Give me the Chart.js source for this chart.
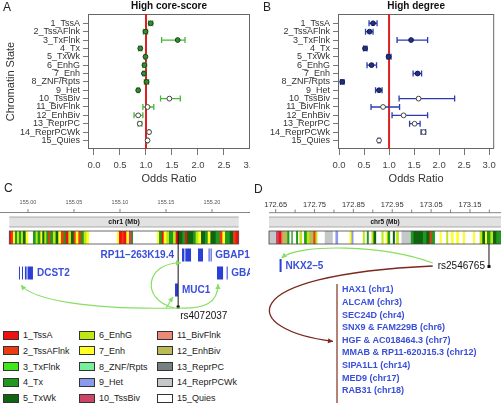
<!DOCTYPE html>
<html>
<head>
<meta charset="utf-8">
<script src="https://cdn.jsdelivr.net/npm/chart.js@4.4.1/dist/chart.umd.min.js"></script>
<style>
body { margin: 0; background: #fff; font-family: "Liberation Sans", Arial, sans-serif; }
#wrap { position: relative; width: 501px; height: 403px; overflow: hidden; }
canvas { position: absolute; }
.lab { position: absolute; font-size: 12px; color: #222; line-height: 12px; }
.leg { position: absolute; font-size: 9px; color: #222; line-height: 10px; white-space: nowrap; }
.sw { position: absolute; width: 14px; height: 7px; border: 1px solid #333; }
</style>
</head>
<body>
<div id="wrap">
  <canvas id="chA" width="262" height="190" style="left:0;top:0;z-index:1"></canvas>
  <canvas id="chB" width="251" height="190" style="left:250px;top:0;z-index:2;background:#fff"></canvas>
  <canvas id="chC" width="250" height="140" style="left:0;top:190px;z-index:1"></canvas>
  <canvas id="chD" width="251" height="213" style="left:250px;top:190px;z-index:1"></canvas>
  <div class="lab" style="left:3px;top:1px;z-index:3">A</div>
  <div class="lab" style="left:263px;top:1px;z-index:3">B</div>
  <div class="lab" style="left:4px;top:182px;z-index:3">C</div>
  <div class="lab" style="left:254px;top:183px;z-index:3">D</div>
  <div id="legend"></div>
</div>
<script>
const FAM = '"Liberation Sans", Arial, sans-serif';
Chart.defaults.font.family = FAM;

// chromatin states (ROADMAP 15-state model)
const states = ['1_TssA', '2_TssAFlnk', '3_TxFlnk', '4_Tx', '5_TxWk', '6_EnhG', '7_Enh', '8_ZNF/Rpts',
    '9_Het', '10_TssBiv', '11_BivFlnk', '12_EnhBiv', '13_ReprPC', '14_ReprPCWk', '15_Quies'];
const stateColors = ['#ee1111', '#ee3a11', '#3ee81a', '#1f9a1f', '#0f640f', '#bde812', '#ffff22', '#77ee99',
    '#8899ee', '#cc4466', '#ee8877', '#bbbb55', '#778080', '#c4c8c8', '#ffffff'];

// panel A: high core-score
const aOR = [1.09, 0.99, 1.61, 0.89, 0.99, 0.97, 0.96, 1.01, 0.85, 1.45, 1.03, 0.85, 0.88, 1.06, 1.03];
const aLo = [1.05, 0.95, 1.30, 0.86, 0.97, 0.94, 0.94, 0.97, 0.83, 1.28, 0.94, 0.77, 0.85, 1.05, 1.02];
const aHi = [1.13, 1.03, 1.75, 0.92, 1.01, 1.01, 0.98, 1.05, 0.87, 1.66, 1.15, 0.94, 0.92, 1.07, 1.04];

// panel B: high degree
const bOR = [0.68, 0.61, 1.44, 0.52, 0.99, 0.65, 1.57, 0.065, 0.80, 1.59, 0.88, 1.29, 1.51, 1.69, 0.80];
const bLo = [0.60, 0.53, 1.16, 0.49, 0.96, 0.56, 1.48, 0.03, 0.73, 1.20, 0.64, 1.06, 1.41, 1.64, 0.78];
const bHi = [0.76, 0.68, 1.77, 0.56, 1.04, 0.75, 1.65, 0.10, 0.86, 2.31, 1.21, 1.77, 1.62, 1.73, 0.82];

const orTicks = [0, 0.5, 1, 1.5, 2, 2.5, 3];

// panel C: chr1 locus (Mb)
const cTicks = [155.00, 155.05, 155.10, 155.15, 155.20];
const cSegStart = [154.9797, 154.9819, 154.9841, 154.9862, 154.9884, 154.9906, 154.9928, 154.9949, 154.9978, 155.0007,
    155.0058, 155.0087, 155.0109, 155.0138, 155.0159, 155.0181, 155.0203, 155.0225, 155.0246, 155.0275,
    155.0304, 155.0333, 155.0362, 155.0391, 155.0413, 155.0442, 155.0471, 155.0500, 155.0522, 155.0551,
    155.0580, 155.0609, 155.0638, 155.0667, 155.0971, 155.0993, 155.1022, 155.1043, 155.1072, 155.1101,
    155.1130, 155.1145, 155.1406, 155.1428, 155.1457, 155.1478, 155.1507, 155.1536, 155.1580, 155.1609,
    155.1638, 155.1681, 155.1710, 155.1732, 155.1797, 155.1826, 155.1855, 155.1884, 155.1928, 155.1957,
    155.1986, 155.2043, 155.2087, 155.2116, 155.2145, 155.2196, 155.2232, 155.2261];
const cSegState = [1, 2, 7, 4, 6, 4, 6, 5, 7, 15,
    4, 6, 4, 7, 5, 6, 4, 2, 4, 6,
    5, 7, 2, 4, 1, 6, 5, 2, 7, 2,
    4, 6, 7, 15, 7, 1, 2, 1, 7, 10,
    4, 15, 7, 4, 1, 7, 6, 4, 6, 1,
    5, 4, 1, 5, 4, 6, 7, 5, 4, 7,
    5, 4, 2, 7, 4, 5, 2, 1];
const cTrackEnd = 155.2290;
const cGenes = ['DCST2', 'RP11\u2013263K19.4', 'GBAP1', 'GBA', 'MUC1'];
const cGeneBlocks = [
    [[154.9902, 154.9909], [154.9935, 154.9942], [154.9967, 154.9985], [154.9995, 155.0054]],
    [[155.1674, 155.1700], [155.1710, 155.1772]],
    [[155.1848, 155.1902], [155.1963, 155.1970], [155.1985, 155.1992]],
    [[155.2054, 155.2120], [155.2159, 155.2166]],
    [[155.1598, 155.1630]]
];
const cSnp = 155.1632;
const cSnpName = 'rs4072037';

// panel D: chr5 locus (Mb)
const dTicks = [172.65, 172.75, 172.85, 172.95, 173.05, 173.15];
const dMinorTicks = [172.70, 172.80, 172.90, 173.00, 173.10, 173.20];
const dSegStart = [172.6328, 172.6517, 172.6586, 172.6655, 172.6689, 172.6741, 172.6809, 172.6861, 172.6912, 172.6947,
    172.7033, 172.7084, 172.7119, 172.7187, 172.7239, 172.7308, 172.7376, 172.7479, 172.7531, 172.7582,
    172.7771, 172.7978, 172.8046, 172.8115, 172.8407, 172.8459, 172.8510, 172.8751, 172.8802, 172.8854,
    172.8905, 172.8974, 172.9026, 172.9095, 172.9232, 172.9284, 172.9335, 172.9387, 172.9455, 172.9524,
    172.9576, 172.9610, 172.9679, 172.9747, 172.9988, 173.0057, 173.0297, 173.0383, 173.0469, 173.0521,
    173.0607, 173.0727, 173.0778, 173.0899, 173.0950, 173.1019, 173.1088, 173.1156, 173.1225, 173.1328,
    173.1380, 173.1586, 173.1637, 173.1758, 173.1826, 173.1895, 173.1947, 173.2033, 173.2101, 173.2187];
const dSegState = [14, 10, 1, 11, 12, 12, 4, 15, 4, 15,
    4, 15, 6, 15, 4, 6, 12, 2, 6, 15,
    14, 15, 9, 15, 7, 9, 15, 6, 15, 4,
    15, 6, 5, 15, 6, 15, 7, 4, 15, 5,
    15, 6, 15, 14, 4, 5, 4, 5, 2, 4,
    15, 7, 15, 6, 15, 7, 15, 7, 15, 7,
    15, 7, 15, 6, 5, 7, 4, 6, 5, 4];
const dTrackEnd = 173.2299;
const dGene = 'NKX2\u20135';
const dGeneBlock = [172.6600, 172.6607];
const dSnp = 173.1990;
const dSnpName = 'rs2546765';
const dTrans = ['HAX1 (chr1)', 'ALCAM (chr3)', 'SEC24D (chr4)', 'SNX9 & FAM229B (chr6)', 'HGF & AC018464.3 (chr7)',
    'MMAB & RP11-620J15.3 (chr12)', 'SIPA1L1 (chr14)', 'MED9 (chr17)', 'RAB31 (chr18)'];

// ---------- forest plots ----------
const forestPlugin = {
    id: 'forest',
    beforeDatasetsDraw(chart, args, opts) {
        const { ctx, chartArea: a, scales: { x, y } } = chart;
        ctx.save();
        ctx.strokeStyle = '#666';
        ctx.lineWidth = 1;
        ctx.strokeRect(a.left + 0.5, a.top + 0.5, a.width - 1, a.height - 1);
        // reference line at OR = 1
        const x1 = x.getPixelForValue(1);
        ctx.strokeStyle = '#dd1f1f';
        ctx.lineWidth = 2;
        ctx.beginPath();
        ctx.moveTo(x1, a.top);
        ctx.lineTo(x1, a.bottom);
        ctx.stroke();
        // confidence intervals
        ctx.strokeStyle = opts.barColor;
        ctx.lineWidth = 1.3;
        chart.data.datasets[0].data.forEach(p => {
            const yy = y.getPixelForValue(p.y);
            const xl = x.getPixelForValue(p.lo), xh = x.getPixelForValue(p.hi);
            ctx.beginPath();
            ctx.moveTo(xl, yy); ctx.lineTo(xh, yy);
            ctx.moveTo(xl, yy - 3); ctx.lineTo(xl, yy + 3);
            ctx.moveTo(xh, yy - 3); ctx.lineTo(xh, yy + 3);
            ctx.stroke();
        });
        ctx.restore();
    }
};

function forestChart(id, title, or, lo, hi, xmin, xmax, padRight, yTitle, fill, edge, barColor) {
    new Chart(document.getElementById(id), {
        type: 'scatter',
        data: {
            datasets: [{
                data: or.map((v, i) => ({ x: v, y: i + 1, lo: lo[i], hi: hi[i] })),
                pointRadius: 2.4,
                pointBorderWidth: 1,
                pointBackgroundColor: c => c.dataIndex >= 9 ? '#ffffff' : fill,
                pointBorderColor: c => c.dataIndex >= 9 ? '#444' : edge
            }]
        },
        options: {
            responsive: false,
            animation: false,
            layout: { padding: { left: 0, right: padRight, top: 0, bottom: 0 } },
            plugins: {
                legend: { display: false },
                tooltip: { enabled: false },
                title: {
                    display: true, text: title, fullSize: false, color: '#111',
                    font: { size: 10, weight: 'bold' }, padding: { top: 0, bottom: 2 }
                },
                forest: { barColor: barColor }
            },
            scales: {
                x: {
                    type: 'linear', min: xmin, max: xmax,
                    afterBuildTicks: s => { s.ticks = orTicks.map(v => ({ value: v })); },
                    afterFit: s => { s.height = 41; },
                    ticks: { callback: v => v.toFixed(1), color: '#444', font: { size: 9.5 }, padding: 5, maxRotation: 0, autoSkip: false },
                    grid: { drawOnChartArea: false, tickLength: 6, color: '#777' },
                    border: { display: false },
                    title: { display: true, text: 'Odds Ratio', color: '#333', font: { size: 11 }, padding: { top: 0, bottom: 4 } }
                },
                y: {
                    type: 'linear', reverse: true, min: -0.11, max: 16.02,
                    afterBuildTicks: s => { s.ticks = states.map((_, i) => ({ value: i + 1 })); },
                    afterFit: s => { s.width = 88; },
                    ticks: { callback: v => states[v - 1], color: '#333', font: { size: 9 }, padding: 3, autoSkip: false },
                    grid: { drawOnChartArea: false, tickLength: 5, color: '#777' },
                    border: { display: false },
                    title: { display: yTitle, text: 'Chromatin State', color: '#333', font: { size: 11 }, padding: { top: 4, bottom: 0 } }
                }
            }
        },
        plugins: [forestPlugin]
    });
}

forestChart('chA', 'High core-score', aOR, aLo, aHi, -0.115, 3.0, 12, true, '#2f8f2f', '#1d3d1d', '#49b83a');
forestChart('chB', 'High degree', bOR, bLo, bHi, -0.02, 3.1, 1, false, '#1f2f8f', '#101840', '#2a3cb0');

// ---------- locus panels ----------
function line(ctx, x0, y0, x1, y1) {
    ctx.beginPath(); ctx.moveTo(x0, y0); ctx.lineTo(x1, y1); ctx.stroke();
}

function chrBar(ctx, x0, x1, y0, y1, text, size) {
    ctx.fillStyle = '#e2e2e2';
    ctx.fillRect(x0, y0, x1 - x0, y1 - y0);
    ctx.strokeStyle = '#999';
    ctx.lineWidth = 0.8;
    line(ctx, x0, y0, x1, y0);
    line(ctx, x0, y1, x1, y1);
    ctx.fillStyle = '#111';
    ctx.font = 'bold ' + size + 'px ' + FAM;
    ctx.textAlign = 'center';
    ctx.textBaseline = 'middle';
    ctx.fillText(text, (x0 + x1) / 2, (y0 + y1) / 2 + 0.5);
}

function curve(ctx, p, color, width) {
    ctx.strokeStyle = color;
    ctx.lineWidth = width;
    ctx.beginPath();
    ctx.moveTo(p[0][0], p[0][1]);
    ctx.bezierCurveTo(p[1][0], p[1][1], p[2][0], p[2][1], p[3][0], p[3][1]);
    ctx.stroke();
    // arrow head
    const ang = Math.atan2(p[3][1] - p[2][1], p[3][0] - p[2][0]);
    const L = 5, W = 2.6;
    ctx.fillStyle = color;
    ctx.beginPath();
    ctx.moveTo(p[3][0], p[3][1]);
    ctx.lineTo(p[3][0] - L * Math.cos(ang) + W * Math.sin(ang), p[3][1] - L * Math.sin(ang) - W * Math.cos(ang));
    ctx.lineTo(p[3][0] - L * Math.cos(ang) - W * Math.sin(ang), p[3][1] - L * Math.sin(ang) + W * Math.cos(ang));
    ctx.closePath();
    ctx.fill();
}

function trackData(starts, stateIdx, end) {
    return starts.map((s, i) => ({ x: [s, i + 1 < starts.length ? starts[i + 1] : end], y: 'chr' }));
}

const GENE_COL = '#2b3fd6';
const LABEL_COL = '#3a4fd8';
const GREEN = '#86df5f';

const cPlugin = {
    id: 'cLocus',
    afterDraw(chart) {
        const { ctx, chartArea: a, scales: { x } } = chart;
        ctx.save();
        // ruler
        ctx.strokeStyle = '#666';
        ctx.lineWidth = 0.8;
        line(ctx, 0, 22.5, chart.width, 22.5);
        ctx.fillStyle = '#555';
        ctx.font = '5.5px ' + FAM;
        ctx.textAlign = 'center';
        ctx.textBaseline = 'middle';
        cTicks.forEach(v => {
            const px = x.getPixelForValue(v);
            line(ctx, px, 19, px, 22.5);
            ctx.fillText(v.toFixed(2), px, 12);
        });
        chrBar(ctx, a.left, a.right, 27, 37, 'chr1 (Mb)', 7);
        ctx.strokeStyle = '#444';
        ctx.lineWidth = 0.8;
        ctx.strokeRect(a.left, a.top, a.width, a.height);

        // genes: row centre and label side
        const rowY = [83, 65, 65, 83, 100];
        const side = ['right', 'left', 'right', 'right', 'right'];
        const gx = [];
        cGeneBlocks.forEach((blocks, g) => {
            ctx.fillStyle = GENE_COL;
            blocks.forEach(b => {
                const p0 = x.getPixelForValue(b[0]), p1 = x.getPixelForValue(b[1]);
                ctx.fillRect(p0, rowY[g] - 6.5, Math.max(p1 - p0, 1), 13);
            });
            const gs = x.getPixelForValue(blocks[0][0]);
            const ge = x.getPixelForValue(blocks[blocks.length - 1][1]);
            gx.push([gs, ge]);
            ctx.fillStyle = LABEL_COL;
            ctx.font = 'bold 10px ' + FAM;
            ctx.textBaseline = 'middle';
            if (side[g] === 'left') {
                ctx.textAlign = 'right';
                ctx.fillText(cGenes[g], gs - 8, rowY[g] + 0.5);
            } else {
                ctx.textAlign = 'left';
                ctx.fillText(cGenes[g], ge + 4, rowY[g] + 0.5);
            }
        });

        // SNP
        const sx = x.getPixelForValue(cSnp);
        ctx.strokeStyle = '#111';
        ctx.lineWidth = 1;
        line(ctx, sx, a.top, sx, 117);
        ctx.fillStyle = '#111';
        ctx.fillRect(sx - 1.5, 115.5, 3, 3);
        ctx.font = '10px ' + FAM;
        ctx.textAlign = 'left';
        ctx.fillText(cSnpName, sx + 2, 126);

        // cis interactions
        curve(ctx, [[sx, 118], [sx - 88, 120], [gx[0][0] + 14, 110], [gx[0][0] + 2, 95]], GREEN, 1.2);
        curve(ctx, [[sx, 118], [sx + 27, 119], [gx[3][0] + 1, 113], [gx[3][0] + 1, 94]], GREEN, 1.2);
        curve(ctx, [[sx - 4, 118], [sx - 38, 110], [sx - 33, 72], [gx[1][0] - 1, 73]], GREEN, 1.2);
        curve(ctx, [[sx - 12, 118], [sx - 10, 115], [sx - 8, 111], [gx[4][0] - 2, 107]], GREEN, 1.2);
        ctx.restore();
    }
};

const dPlugin = {
    id: 'dLocus',
    afterDraw(chart) {
        const { ctx, chartArea: a, scales: { x } } = chart;
        ctx.save();
        ctx.strokeStyle = '#666';
        ctx.lineWidth = 0.8;
        line(ctx, a.left, 22.7, chart.width, 22.7);
        ctx.fillStyle = '#333';
        ctx.font = '7.5px ' + FAM;
        ctx.textAlign = 'center';
        ctx.textBaseline = 'middle';
        dTicks.forEach(v => {
            const px = x.getPixelForValue(v);
            line(ctx, px, 19, px, 22.7);
            ctx.fillText(v.toFixed(2), px, 15);
        });
        dMinorTicks.forEach(v => {
            const px = x.getPixelForValue(v);
            line(ctx, px, 19.5, px, 22.7);
        });
        chrBar(ctx, a.left, chart.width, 27, 37, 'chr5 (Mb)', 6.5);
        ctx.strokeStyle = '#444';
        ctx.lineWidth = 0.8;
        ctx.strokeRect(a.left, a.top, a.width + 1, a.height);

        // NKX2-5
        const g0 = x.getPixelForValue(dGeneBlock[0]), g1 = x.getPixelForValue(dGeneBlock[1]);
        ctx.fillStyle = GENE_COL;
        ctx.fillRect(g0, 69, Math.max(g1 - g0, 2), 13);
        ctx.fillStyle = LABEL_COL;
        ctx.font = 'bold 10px ' + FAM;
        ctx.textAlign = 'left';
        ctx.fillText(dGene, g0 + 6, 76.5);

        // SNP
        const sx = x.getPixelForValue(dSnp);
        ctx.strokeStyle = '#111';
        ctx.lineWidth = 1;
        line(ctx, sx, a.bottom, sx, 76);
        ctx.fillStyle = '#111';
        ctx.fillRect(sx - 1.5, 75, 3, 3);
        ctx.font = '10px ' + FAM;
        ctx.textAlign = 'right';
        ctx.fillText(dSnpName, sx - 4, 76.5);
        const lx = sx - 4 - ctx.measureText(dSnpName).width - 5;

        // trans gene list
        const listX = 92, listY0 = 100, step = 12.6;
        ctx.strokeStyle = '#9a5a4c';
        ctx.lineWidth = 1.5;
        line(ctx, listX - 5, 94, listX - 5, 213);
        ctx.fillStyle = LABEL_COL;
        ctx.font = 'bold 9px ' + FAM;
        ctx.textAlign = 'left';
        dTrans.forEach((t, i) => ctx.fillText(t, listX, listY0 + i * step));

        // interactions
        curve(ctx, [[lx, 73], [lx - 48, 55], [g0 + 20, 53], [g0 + 2, 68]], GREEN, 1.2);
        curve(ctx, [[lx, 76], [-20, 85], [-10, 140], [listX - 9, listY0 + 4 * step + 1]], '#7a2a1e', 1.3);
        ctx.restore();
    }
};

function locusChart(id, starts, stateIdx, end, padLeft, padRight, padBottom, plugin) {
    new Chart(document.getElementById(id), {
        type: 'bar',
        data: {
            labels: ['chr'],
            datasets: [{
                data: trackData(starts, stateIdx, end),
                backgroundColor: stateIdx.map(s => stateColors[s - 1]),
                borderWidth: 0,
                barPercentage: 1,
                categoryPercentage: 1
            }]
        },
        options: {
            indexAxis: 'y',
            responsive: false,
            animation: false,
            layout: { padding: { left: padLeft, right: padRight, top: 41, bottom: padBottom } },
            plugins: { legend: { display: false }, tooltip: { enabled: false } },
            scales: {
                x: { type: 'linear', min: starts[0], max: end, display: false },
                y: { type: 'category', display: false }
            }
        },
        plugins: [plugin]
    });
}

locusChart('chC', cSegStart, cSegState, cTrackEnd, 9.3, 11.3, 86, cPlugin);
locusChart('chD', dSegStart, dSegState, dTrackEnd, 19, 0, 159, dPlugin);

// ---------- chromatin state legend ----------
const legend = document.getElementById('legend');
const colX = [3, 79, 157];
states.forEach((s, i) => {
    const col = Math.floor(i / 5), row = i % 5;
    const yc = 335 + row * 15.75;
    const sw = document.createElement('div');
    sw.className = 'sw';
    sw.style.left = colX[col] + 'px';
    sw.style.top = (yc - 4.5) + 'px';
    sw.style.background = stateColors[i];
    legend.appendChild(sw);
    const t = document.createElement('div');
    t.className = 'leg';
    t.style.left = (colX[col] + 20) + 'px';
    t.style.top = (yc - 5) + 'px';
    t.textContent = s;
    legend.appendChild(t);
});
</script>
</body>
</html>
